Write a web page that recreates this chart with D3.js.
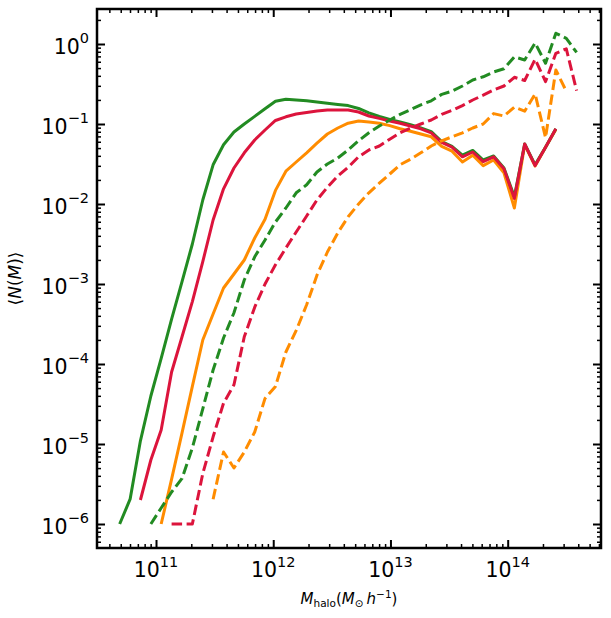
<!DOCTYPE html>
<meta charset="utf-8">
<script src="https://cdn.jsdelivr.net/npm/d3@7"></script>
<style type="text/css">
body {
  margin: 0;
  background: #fff;
}

text {
  font-family: "DejaVu Sans", sans-serif;
  fill: #000;
}

.axis path {
  display: none;
}

.axis line {
  stroke: #000;
}

.curve {
  fill: none;
  stroke-linejoin: round;
}
</style>
<body>
<script>

// halo mass bins, log10(M / (Msun/h))
var logM = [10.690, 10.779, 10.867, 10.956, 11.044, 11.133, 11.222, 11.310, 11.399, 11.487,
            11.576, 11.665, 11.753, 11.842, 11.930, 12.019, 12.108, 12.196, 12.285, 12.373,
            12.462, 12.551, 12.639, 12.728, 12.816, 12.905, 12.994, 13.082, 13.171, 13.259,
            13.348, 13.437, 13.525, 13.614, 13.702, 13.791, 13.880, 13.968, 14.057, 14.145,
            14.234, 14.323, 14.411, 14.500, 14.588];

// log10 <N(M)> (null = not drawn)
var greenSolid = [-6.0, -5.69, -4.96, -4.40, -3.93, -3.44, -2.97, -2.50, -1.95, -1.51,
                  -1.26, -1.10, -1.00, -0.905, -0.81, -0.716, -0.69, -0.70, -0.71, -0.725,
                  -0.74, -0.756, -0.77, -0.806, -0.86, -0.906, -0.944, -0.975, -1.01, -1.05,
                  -1.096, -1.22, -1.28, -1.39, -1.33, -1.45, -1.40, -1.55, -1.91, -1.25,
                  -1.51, -1.29, -1.06, null, null];
var redSolid = [null, null, -5.70, -5.20, -4.825, -4.10, -3.66, -3.22, -2.72, -2.20,
                -1.81, -1.55, -1.36, -1.20, -1.075, -0.956, -0.91, -0.875, -0.856, -0.838,
                -0.825, -0.825, -0.825, -0.85, -0.90, -0.93, -0.963, -0.99, -1.025, -1.06,
                -1.11, -1.23, -1.29, -1.41, -1.35, -1.47, -1.41, -1.56, -1.93, -1.25,
                -1.52, -1.29, -1.06, null, null];
var orangeSolid = [null, null, null, null, -6.0, -5.44, -4.86, -4.28, -3.70, -3.375,
                   -3.05, -2.875, -2.70, -2.425, -2.19, -1.83, -1.59, -1.475, -1.36, -1.24,
                   -1.125, -1.05, -0.99, -0.963, -0.975, -0.99, -1.02, -1.06, -1.09, -1.125,
                   -1.16, -1.28, -1.34, -1.475, -1.39, -1.52, -1.45, -1.61, -2.05, -1.26,
                   -1.525, -1.29, -1.07, null, null];
var greenDashed = [null, null, null, -6.0, -5.80, -5.60, -5.43, -5.05, -4.56, -4.075,
                   -3.675, -3.36, -2.95, -2.66, -2.45, -2.225, -2.05, -1.86, -1.76, -1.60,
                   -1.50, -1.425, -1.325, -1.21, -1.11, -1.025, -0.95, -0.88, -0.82, -0.76,
                   -0.71, -0.63, -0.59, -0.525, -0.45, -0.41, -0.35, -0.31, -0.16, -0.20,
                   0.0125, -0.24, 0.134, 0.07, -0.106];
var redDashed = [null, null, null, null, null, -6.0, -6.0, -6.0, -5.37, -4.91,
                 -4.49, -4.26, -3.66, -3.29, -3.00, -2.76, -2.55, -2.35, -2.15, -1.95,
                 -1.79, -1.65, -1.54, -1.41, -1.325, -1.275, -1.19, -1.11, -1.05, -1.00,
                 -0.95, -0.88, -0.83, -0.77, -0.70, -0.64, -0.575, -0.525, -0.416, -0.456,
                 -0.19, -0.47, -0.116, -0.06, -0.584];
var orangeDashed = [null, null, null, null, null, null, null, null, null, -5.69,
                    -5.10, -5.30, -5.10, -4.85, -4.43, -4.28, -3.85, -3.58, -3.26, -2.89,
                    -2.60, -2.36, -2.16, -2.00, -1.86, -1.74, -1.625, -1.51, -1.44, -1.36,
                    -1.275, -1.21, -1.16, -1.11, -1.05, -1.00, -0.87, -0.90, -0.79, -0.84,
                    -0.625, -1.17, -0.325, -0.59, null];

var xTickExp = [11, 12, 13, 14];
var yTickExp = [0, -1, -2, -3, -4, -5, -6];

var curves = [
  {vals: orangeSolid, color: "#ff8c00", dash: null},
  {vals: greenSolid, color: "#228b22", dash: null},
  {vals: redSolid, color: "#dc143c", dash: null},
  {vals: greenDashed, color: "#228b22", dash: "10.5,4.5"},
  {vals: redDashed, color: "#dc143c", dash: "10.5,4.5"},
  {vals: orangeDashed, color: "#ff8c00", dash: "10.5,4.5"}
];

var W = 611, H = 618;
var margin = {top: 9, right: 10, bottom: 70, left: 97}
  , width = W - margin.left - margin.right
  , height = H - margin.top - margin.bottom;

var xScale = d3.scaleLog().domain([Math.pow(10, 10.4966), Math.pow(10, 14.796)]).range([0, width]);
var yScale = d3.scaleLog().domain([Math.pow(10, -6.3), Math.pow(10, 0.4375)]).range([height, 0]);

var svg = d3.select("body").append("svg")
    .attr("width", W)
    .attr("height", H)
    .append("g")
    .attr("transform", "translate(" + margin.left + "," + margin.top + ")");

// minor / major tick values
function minorTicks(scale) {
  var d = scale.domain(), out = [];
  for (var e = Math.floor(Math.log10(d[0])); e <= Math.ceil(Math.log10(d[1])); e++) {
    for (var k = 2; k <= 9; k++) {
      var v = k * Math.pow(10, e);
      if (v >= d[0] && v <= d[1]) out.push(v);
    }
  }
  return out;
}
var xMajor = xTickExp.map(function(e) { return Math.pow(10, e); });
var yMajor = yTickExp.map(function(e) { return Math.pow(10, e); });

function addAxis(gen, vals, size, w, tr) {
  svg.append("g").attr("class", "axis")
      .attr("transform", tr)
      .call(gen.tickValues(vals).tickSizeInner(-size).tickSizeOuter(0).tickFormat(""))
      .selectAll("line").style("stroke-width", w);
}
addAxis(d3.axisBottom(xScale), xMajor, 8, 2, "translate(0," + height + ")");
addAxis(d3.axisBottom(xScale), minorTicks(xScale), 4, 1.5, "translate(0," + height + ")");
addAxis(d3.axisTop(xScale), xMajor, 8, 2, "translate(0,0)");
addAxis(d3.axisTop(xScale), minorTicks(xScale), 4, 1.5, "translate(0,0)");
addAxis(d3.axisLeft(yScale), yMajor, 8, 2, "translate(0,0)");
addAxis(d3.axisLeft(yScale), minorTicks(yScale), 4, 1.5, "translate(0,0)");
addAxis(d3.axisRight(yScale), yMajor, 8, 2, "translate(" + width + ",0)");
addAxis(d3.axisRight(yScale), minorTicks(yScale), 4, 1.5, "translate(" + width + ",0)");

// curves
var line = d3.line()
    .defined(function(d) { return d.n !== null; })
    .x(function(d) { return xScale(Math.pow(10, d.m)); })
    .y(function(d) { return yScale(Math.pow(10, d.n)); });

curves.forEach(function(c) {
  var pts = logM.map(function(m, i) { return {m: m, n: c.vals[i]}; });
  svg.append("path").datum(pts)
      .attr("class", "curve")
      .attr("d", line)
      .style("stroke", c.color)
      .style("stroke-width", 3)
      .style("stroke-dasharray", c.dash);
});

// frame
svg.append("rect")
    .attr("width", width).attr("height", height)
    .style("fill", "none").style("stroke", "#000").style("stroke-width", 2.5);

// tick labels with superscripts
function powLabel(sel, e) {
  sel.append("tspan").text("10");
  sel.append("tspan").attr("dy", -10.5).style("font-size", "14.5px")
     .text(String(e).replace("-", "\u2212"));
}
xTickExp.forEach(function(e) {
  svg.append("text")
      .attr("x", xScale(Math.pow(10, e)))
      .attr("y", height + 29)
      .style("font-size", "20.5px")
      .style("text-anchor", "middle")
      .call(powLabel, e);
});
yTickExp.forEach(function(e) {
  svg.append("text")
      .attr("x", -8)
      .attr("y", yScale(Math.pow(10, e)) + 9.5)
      .style("font-size", "20.5px")
      .style("text-anchor", "end")
      .call(powLabel, e);
});

// axis labels
var xl = svg.append("text")
    .attr("x", width / 2)
    .attr("y", height + 56)
    .style("font-size", "15px")
    .style("text-anchor", "middle");
xl.append("tspan").style("font-style", "italic").text("M");
xl.append("tspan").attr("dy", 3).style("font-size", "10.5px").text("halo");
xl.append("tspan").attr("dy", -3).text("(");
xl.append("tspan").style("font-style", "italic").text("M");
xl.append("tspan").attr("dy", 3).style("font-size", "10.5px").text("\u2299");
xl.append("tspan").attr("dy", -3).text("\u2009");
xl.append("tspan").style("font-style", "italic").text("h");
xl.append("tspan").attr("dy", -6).style("font-size", "10.5px").text("\u22121");
xl.append("tspan").attr("dy", 6).text(")");

var yl = svg.append("text")
    .attr("transform", "translate(" + (-76) + "," + (height / 2) + ") rotate(-90)")
    .style("font-size", "17px")
    .style("text-anchor", "middle");
yl.append("tspan").text("\u27e8");
yl.append("tspan").style("font-style", "italic").text("N");
yl.append("tspan").text("(");
yl.append("tspan").style("font-style", "italic").text("M");
yl.append("tspan").text(")\u27e9");

</script>
</body>
</html>
